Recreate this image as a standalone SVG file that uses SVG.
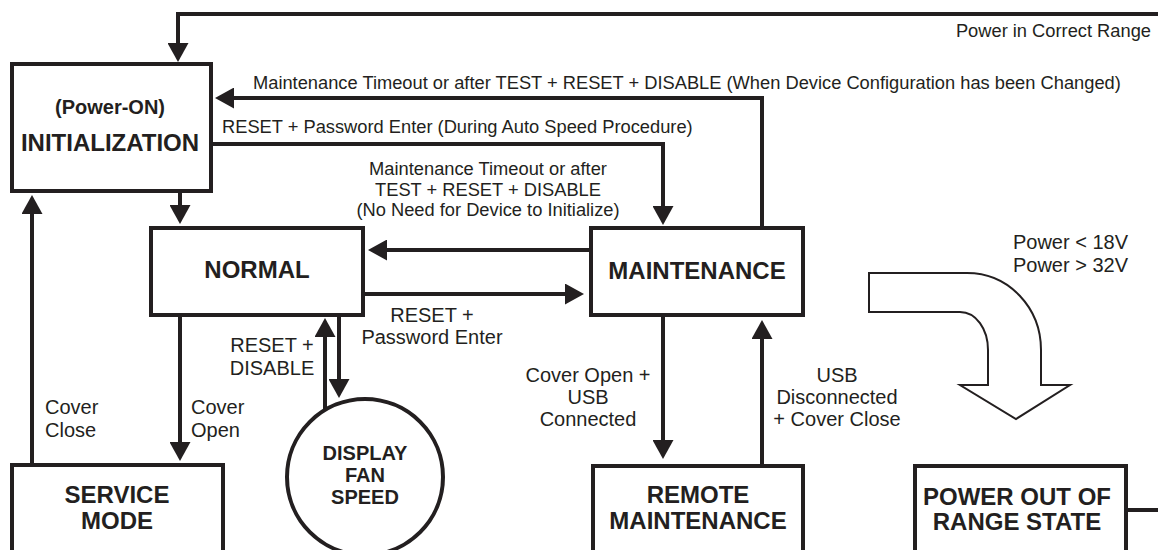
<svg xmlns="http://www.w3.org/2000/svg" width="1158" height="550" viewBox="0 0 1158 550">
<style>
.box{fill:#fff;stroke:#231f20;stroke-width:4}
.title{font-family:"Liberation Sans",Arial,sans-serif;font-weight:bold;font-size:24px;fill:#231f20;text-anchor:middle}
.ctitle{font-family:"Liberation Sans",Arial,sans-serif;font-weight:bold;font-size:20px;fill:#231f20;text-anchor:middle}
.lbl{font-family:"Liberation Sans",Arial,sans-serif;font-size:18.3px;fill:#231f20}
.lbl2{font-family:"Liberation Sans",Arial,sans-serif;font-size:20px;fill:#231f20}
.mid{text-anchor:middle}
.end{text-anchor:end}
.conn{fill:none;stroke:#231f20;stroke-width:4;stroke-linejoin:miter}
.arr{marker-end:url(#ah)}
</style>
<defs>
<marker id="ah" viewBox="0 0 19 21" markerWidth="19" markerHeight="21" refX="15" refY="10.5" orient="auto" markerUnits="userSpaceOnUse">
<path d="M0,0 L19,10.5 L0,21 Z" fill="#231f20"/>
</marker>
</defs>
<rect width="1158" height="550" fill="#fff"/>

<g id="connectors">
<path class="conn arr" d="M1162,14 H178 V58"/>
<path class="conn arr" d="M762,228 V98 H219"/>
<path class="conn arr" d="M212,144 H663 V221"/>
<path class="conn arr" d="M180,193 V220"/>
<path class="conn arr" d="M32,465 V199"/>
<path class="conn arr" d="M589,250 H372"/>
<path class="conn arr" d="M365,294 H580"/>
<path class="conn arr" d="M180,317 V457"/>
<path class="conn arr" d="M325,410 V322"/>
<path class="conn arr" d="M339,317 V394"/>
<path class="conn arr" d="M663,317 V455"/>
<path class="conn arr" d="M762,466 V324"/>
<path class="conn" d="M1128,510 H1162"/>
<path id="power-arrow" d="M869,273 L967,273 C1009,273 1041,308 1041,350 L1041,385 L1070,385 L1016,419 L960,385 L988,385 L988,350 C988,329 976,312 960,312 L869,312 Z" fill="#fff" stroke="#231f20" stroke-width="2" stroke-linejoin="miter"/>
</g>

<g id="labels">
<text class="lbl end" x="1151" y="37">Power in Correct Range</text>
<text class="lbl" x="253" y="89">Maintenance Timeout or after TEST + RESET + DISABLE (When Device Configuration has been Changed)</text>
<text class="lbl" x="222" y="133">RESET + Password Enter (During Auto Speed Procedure)</text>
<text class="lbl mid" x="488" y="175">Maintenance Timeout or after</text>
<text class="lbl mid" x="488" y="196">TEST + RESET + DISABLE</text>
<text class="lbl mid" x="488" y="216">(No Need for Device to Initialize)</text>
<text class="lbl2 mid" x="432" y="322">RESET +</text>
<text class="lbl2 mid" x="432" y="344">Password Enter</text>
<text class="lbl2 mid" x="272" y="352">RESET +</text>
<text class="lbl2 mid" x="272" y="375">DISABLE</text>
<text class="lbl2" x="191" y="414">Cover</text>
<text class="lbl2" x="191" y="437">Open</text>
<text class="lbl2" x="45" y="414">Cover</text>
<text class="lbl2" x="45" y="437">Close</text>
<text class="lbl2 mid" x="588" y="382">Cover Open +</text>
<text class="lbl2 mid" x="588" y="404">USB</text>
<text class="lbl2 mid" x="588" y="426">Connected</text>
<text class="lbl2 mid" x="837" y="382">USB</text>
<text class="lbl2 mid" x="837" y="404">Disconnected</text>
<text class="lbl2 mid" x="837" y="426">+ Cover Close</text>
<text class="lbl2 end" x="1128" y="249">Power &lt; 18V</text>
<text class="lbl2 end" x="1128" y="272">Power &gt; 32V</text>
</g>

<g id="initialization">
<rect class="box" x="12" y="64" width="199" height="127"/>
<text class="ctitle" x="110" y="114">(Power-ON)</text>
<text class="title" x="110" y="151">INITIALIZATION</text>
</g>

<g id="normal">
<rect class="box" x="151" y="228" width="212" height="87"/>
<text class="title" x="257" y="278">NORMAL</text>
</g>

<g id="maintenance">
<rect class="box" x="591" y="228" width="212" height="87"/>
<text class="title" x="697" y="279">MAINTENANCE</text>
</g>

<g id="service-mode">
<rect class="box" x="12" y="465" width="211" height="110"/>
<text class="title" x="117" y="503">SERVICE</text>
<text class="title" x="117" y="529">MODE</text>
</g>

<g id="display-fan-speed">
<circle class="box" cx="365" cy="477" r="78"/>
<text class="ctitle" x="365" y="460">DISPLAY</text>
<text class="ctitle" x="365" y="482">FAN</text>
<text class="ctitle" x="365" y="504">SPEED</text>
</g>

<g id="remote-maintenance">
<rect class="box" x="593" y="466" width="210" height="110"/>
<text class="title" x="698" y="503">REMOTE</text>
<text class="title" x="698" y="529">MAINTENANCE</text>
</g>

<g id="power-out-of-range">
<rect class="box" x="915" y="466" width="211" height="110"/>
<text class="title" x="1017" y="505">POWER OUT OF</text>
<text class="title" x="1017" y="530">RANGE STATE</text>
</g>
</svg>
